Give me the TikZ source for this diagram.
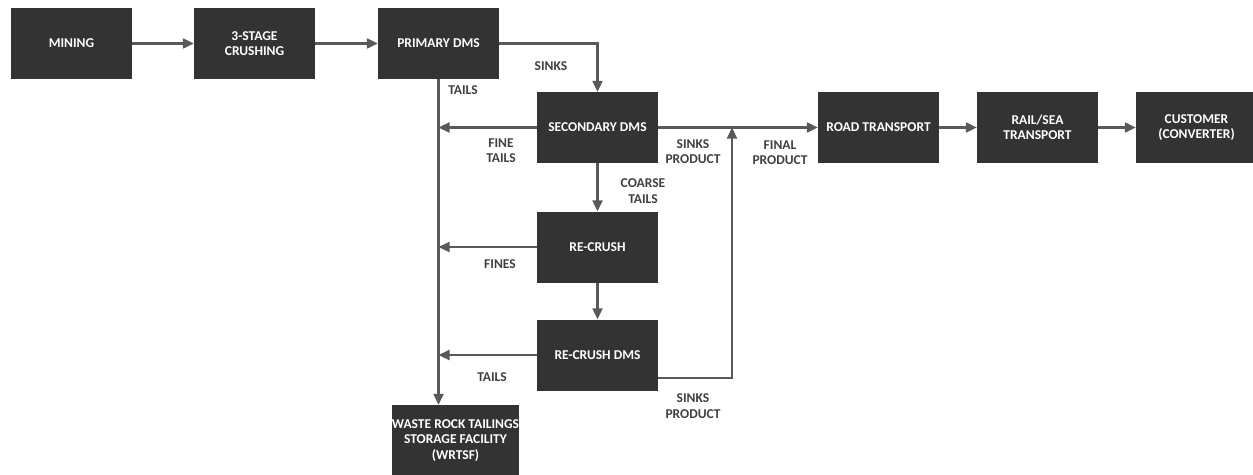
\documentclass[tikz,border=0pt]{standalone}
\usepackage{fontspec}
\setmainfont{Carlito}
\definecolor{boxfill}{RGB}{51, 51, 51}
\definecolor{flow}{RGB}{89, 89, 89}
\definecolor{tag}{RGB}{64, 64, 64}
\usepackage{tikz}
\usetikzlibrary{arrows.meta, positioning, calc}

\begin{document}
\begin{tikzpicture}[
            x=1pt, y=-1pt,
            stage/.style={fill=boxfill, text=white, font=\fontsize{13.5}{15.5}\selectfont\bfseries,
                align=center, minimum width=121pt, minimum height=71pt, inner sep=0pt},
            tag/.style={text=tag, font=\fontsize{13.5}{15.5}\selectfont\bfseries, align=center, inner sep=0pt},
            flow/.style={draw=flow, line width=2.2pt, -{Triangle[length=11pt, width=10pt]}},
        ]
            \useasboundingbox (0,0) rectangle (1253,474);
            % main line
            \node[stage] (mining)    at (71.5, 43.5)   {MINING};
            \node[stage] (crush)     at (254.5, 43.5)  {3-STAGE\\CRUSHING};
            \node[stage] (primary)   at (438.5, 43.5)  {PRIMARY DMS};
            \node[stage] (secondary) at (597.5, 127.5) {SECONDARY DMS};
            \node[stage] (recrush)   at (597.5, 247)   {RE-CRUSH};
            \node[stage] (rdms)      at (597.5, 355)   {RE-CRUSH DMS};
            \node[stage] (wrtsf)     at (455.5, 440.5) {WASTE ROCK TAILINGS\\STORAGE FACILITY\\(WRTSF)};
            \node[stage] (road)      at (878.5, 127.5) {ROAD TRANSPORT};
            \node[stage] (rail)      at (1037.5, 127.5) {RAIL/SEA\\TRANSPORT};
            \node[stage] (customer)  at (1196.5, 127.5) {CUSTOMER\\(CONVERTER)};
            \coordinate (join) at (732, 127.5);

            % connectors
            \draw[flow] (mining) -- (crush);
            \draw[flow] (crush) -- (primary);
            \draw[flow] (primary.east) -| (secondary.north);
            \draw[flow] (primary.south) -- (primary.south |- wrtsf.north);
            \draw[flow] (secondary.west) -- (primary.south |- secondary.west);
            \draw[flow] (secondary.east) -- (road.west);
            \draw[flow] (secondary.south) -- (recrush.north);
            \draw[flow] (recrush.west) -- (primary.south |- recrush.west);
            \draw[flow] (recrush.south) -- (rdms.north);
            \draw[flow] (rdms.west) -- (primary.south |- rdms.west);
            \draw[flow] ([yshift=-23pt]rdms.east) -| (join);
            \draw[flow] (road) -- (rail);
            \draw[flow] (rail) -- (customer);

            % labels
            \node[tag] (sinks)    at (551, 66)   {SINKS};
            \node[tag] (ptails)   at (463, 90)   {TAILS};
            \node[tag] (finet)    at (501, 150.5) {FINE\\TAILS};
            \node[tag] (sprod)    at (693, 151.5) {SINKS\\PRODUCT};
            \node[tag] (final)    at (780, 152.5) {FINAL\\PRODUCT};
            \node[tag] (coarse)   at (643, 191)  {COARSE\\TAILS};
            \node[tag] (fines)    at (500, 264)  {FINES};
            \node[tag] (rtails)   at (492, 377)  {TAILS};
            \node[tag] (rprod)    at (693, 406)  {SINKS\\PRODUCT};
        \end{tikzpicture}
\end{document}
